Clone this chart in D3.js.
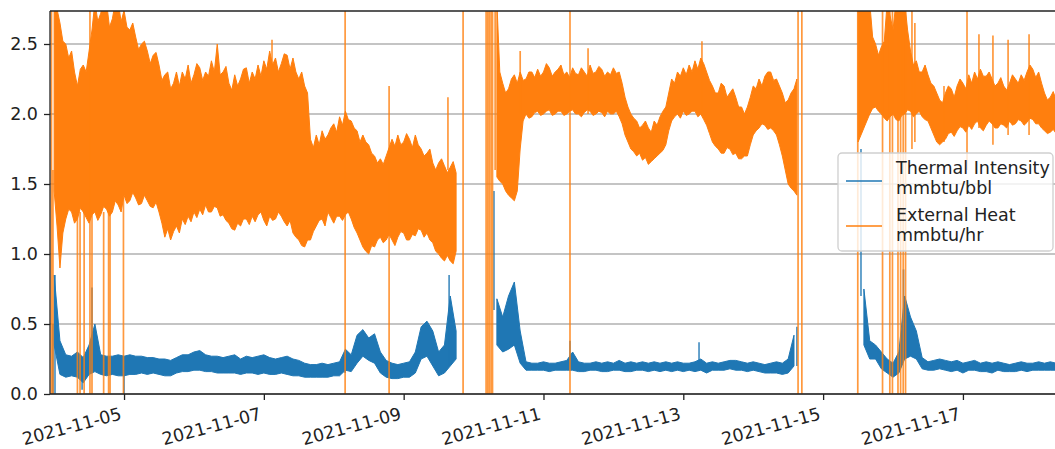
<!DOCTYPE html>
<html>
<head>
<meta charset="utf-8">
<script src="https://cdn.jsdelivr.net/npm/d3@7"></script>
<style>
  html, body { margin: 0; padding: 0; background: #fff; }
  svg { display: block; font-family: "DejaVu Sans", sans-serif; }
</style>
</head>
<body>
<svg id="chart" width="1055" height="449"></svg>
<script>
// Min/max envelopes of the plant readings, first bin at 2021-11-04 00:00 UTC.
const binStart = "2021-11-04T00:00:00Z";
const heatBinHours = 1;
const intensityBinHours = 2;

// External Heat (mmbtu/hr): hourly upper and lower envelope (null = no reading)
const heatHigh = [
  2.8, 2.75, 2.65, 2.52, 2.5, 2.4, 2.45, 2.3, 2.2, 2.32,
  2.35, 2.3, 2.45, 2.6, 2.8, 2.66, 2.72, 2.8, 2.8, 2.62,
  2.68, 2.8, 2.8, 2.66, 2.74, 2.62, 2.6, 2.65, 2.55, 2.46,
  2.5, 2.52, 2.45, 2.36, 2.42, 2.44, 2.35, 2.24, 2.28, 2.3,
  2.18, 2.22, 2.3, 2.2, 2.3, 2.25, 2.35, 2.22, 2.28, 2.36,
  2.33, 2.24, 2.3, 2.27, 2.38, 2.3, 2.5, 2.28, 2.3, 2.34,
  2.22, 2.17, 2.28, 2.2, 2.25, 2.32, 2.33, 2.22, 2.3, 2.25,
  2.35, 2.27, 2.38, 2.32, 2.45, 2.35, 2.4, 2.3, 2.36, 2.43,
  2.42, 2.32, 2.4, 2.3, 2.25, 2.3, 2.2, 2.15, 1.82, 1.76,
  1.85, 1.78, 1.88, 1.82, 1.85, 1.9, 1.93, 1.87, 1.98, 1.92,
  2.02, 1.96, 1.95, 1.9, 1.88, 1.8, 1.85, 1.8, 1.78, 1.72,
  1.7, 1.65, 1.68, 1.64, 1.7, 1.76, 1.82, 1.77, 1.85, 1.78,
  1.8, 1.86, 1.82, 1.76, 1.85, 1.78, 1.75, 1.7, 1.72, 1.75,
  1.65, 1.6, 1.65, 1.68, 1.63, 1.58, 1.62, 1.66, 1.58, null,
  null, null, null, null, null, null, null, null, null, null,
  null, null, 2.8, 2.3, 2.22, 2.15, 2.18, 2.25, 2.28, 2.22,
  2.3, 2.24, 2.25, 2.3, 2.3, 2.26, 2.32, 2.27, 2.3, 2.36,
  2.33, 2.27, 2.3, 2.32, 2.35, 2.28, 2.3, 2.26, 2.33, 2.29,
  2.28, 2.33, 2.3, 2.27, 2.35, 2.29, 2.3, 2.34, 2.32, 2.27,
  2.3, 2.28, 2.33, 2.29, 2.3, 2.22, 2.12, 2.05, 2.0, 1.97,
  1.95, 1.9, 1.92, 1.95, 1.9, 1.87, 1.95, 1.92, 1.98, 2.02,
  2.05, 2.15, 2.25, 2.22, 2.3, 2.27, 2.33, 2.28, 2.35, 2.3,
  2.38, 2.32, 2.4, 2.36, 2.3, 2.24, 2.2, 2.15, 2.15, 2.22,
  2.2, 2.12, 2.15, 2.18, 2.12, 2.05, 2.05, 2.0, 2.05, 2.12,
  2.2, 2.18, 2.25, 2.2, 2.27, 2.3, 2.3, 2.24, 2.25, 2.2,
  2.15, 2.08, 2.1, 2.15, 2.18, 2.25, null, null, null, null,
  null, null, null, null, null, null, null, null, null, null,
  null, null, null, null, null, null, 2.8, 2.8, 2.8, 2.8,
  2.8, 2.55, 2.5, 2.42, 2.48, 2.52, 2.8, 2.7, 2.6, 2.8,
  2.8, 2.8, 2.8, 2.6, 2.45, 2.35, 2.38, 2.3, 2.3, 2.35,
  2.28, 2.22, 2.2, 2.15, 2.1, 2.08, 2.15, 2.2, 2.18, 2.12,
  2.2, 2.25, 2.22, 2.18, 2.28, 2.22, 2.3, 2.25, 2.32, 2.27,
  2.27, 2.3, 2.25, 2.2, 2.22, 2.26, 2.2, 2.17, 2.22, 2.28,
  2.25, 2.22, 2.28, 2.24, 2.3, 2.35, 2.32, 2.26, 2.3, 2.22,
  2.15, 2.1, 2.12, 2.16, 2.1, 2.08,
  2.12
];
const heatLow = [
  1.45, 1.2, 0.9, 1.15, 1.25, 1.32, 1.3, 1.22, 1.25, 1.33,
  1.3, 1.26, 1.22, 1.28, 1.3, 1.24, 1.28, 1.34, 1.32, 1.27,
  1.3, 1.38, 1.35, 1.3, 1.42, 1.36, 1.38, 1.44, 1.4, 1.35,
  1.36, 1.42, 1.38, 1.34, 1.33, 1.37, 1.3, 1.22, 1.12, 1.18,
  1.1, 1.16, 1.2, 1.15, 1.25, 1.21, 1.27, 1.23, 1.3, 1.26,
  1.32, 1.28, 1.35, 1.3, 1.3, 1.34, 1.33, 1.27, 1.28, 1.24,
  1.22, 1.18, 1.17, 1.22, 1.2, 1.25, 1.25, 1.21, 1.27, 1.23,
  1.28, 1.3, 1.24, 1.2, 1.27, 1.24, 1.25, 1.3, 1.27, 1.23,
  1.2, 1.24, 1.15, 1.12, 1.1, 1.06, 1.05, 1.1, 1.1, 1.16,
  1.2, 1.24, 1.25, 1.2, 1.3, 1.26, 1.22, 1.27, 1.27, 1.24,
  1.28, 1.3, 1.25, 1.19, 1.15, 1.1, 1.05, 1.02, 1.0, 1.06,
  1.05, 1.1, 1.12, 1.08, 1.1, 1.14, 1.1, 1.06, 1.12, 1.16,
  1.15, 1.1, 1.1, 1.14, 1.13, 1.18, 1.17, 1.12, 1.15, 1.1,
  1.08, 1.02, 1.0, 0.97, 0.95, 0.99, 0.95, 0.93, 1.02, null,
  null, null, null, null, null, null, null, null, null, null,
  null, null, 1.55, 1.52, 1.5, 1.45, 1.42, 1.4, 1.38, 1.45,
  1.75, 1.95, 2.0, 1.97, 1.98, 2.01, 2.02, 1.99, 2.0, 2.02,
  2.03, 1.99, 2.0, 2.02, 2.02, 1.99, 2.0, 2.02, 2.03, 2.0,
  2.0, 1.98, 2.01, 2.03, 2.02, 1.99, 2.0, 2.02, 2.01, 1.98,
  2.02, 2.0, 2.0, 2.02, 1.98, 1.93, 1.85, 1.8, 1.75, 1.73,
  1.7, 1.72, 1.67, 1.69, 1.64, 1.66, 1.68, 1.7, 1.72, 1.74,
  1.78, 1.88, 1.95, 1.98, 2.0, 1.97, 2.02, 1.99, 2.0, 2.02,
  2.02, 1.98, 2.0, 1.96, 1.92, 1.86, 1.8, 1.77, 1.75, 1.72,
  1.72, 1.76, 1.75, 1.71, 1.72, 1.68, 1.68, 1.7, 1.7, 1.78,
  1.85, 1.88, 1.9, 1.93, 1.92, 1.89, 1.9, 1.88, 1.85, 1.78,
  1.7, 1.6, 1.5, 1.47, 1.45, 1.42, null, null, null, null,
  null, null, null, null, null, null, null, null, null, null,
  null, null, null, null, null, null, 1.8, 1.85, 1.9, 1.95,
  2.0, 2.04, 2.05, 2.02, 2.0, 1.97, 1.95, 1.98, 2.0, 1.96,
  1.95, 1.99, 2.0, 2.03, 2.02, 1.98, 2.0, 2.02, 1.98, 1.96,
  1.95, 1.9, 1.85, 1.8, 1.78, 1.8, 1.82, 1.86, 1.87, 1.84,
  1.88, 1.91, 1.9, 1.87, 1.92, 1.89, 1.93, 1.95, 1.9, 1.88,
  1.92, 1.95, 1.93, 1.9, 1.9, 1.93, 1.92, 1.9, 1.95, 1.92,
  1.93, 1.96, 1.95, 1.92, 1.94, 1.97, 1.96, 1.93, 1.93, 1.9,
  1.88, 1.86, 1.87, 1.89, 1.86, 1.85,
  1.88
];

// Thermal Intensity (mmbtu/bbl): two-hour upper and lower envelope
const intensityHigh = [
  0.85, 0.38, 0.28, 0.27, 0.3, 0.26, 0.35, 0.5, 0.28, 0.27,
  0.27, 0.28, 0.27, 0.28, 0.27, 0.27, 0.26, 0.26, 0.25, 0.25,
  0.24, 0.26, 0.28, 0.28, 0.3, 0.31, 0.28, 0.27, 0.27, 0.26,
  0.27, 0.28, 0.25, 0.27, 0.26, 0.27, 0.28, 0.26, 0.25, 0.26,
  0.27, 0.25, 0.24, 0.22, 0.21, 0.21, 0.22, 0.21, 0.22, 0.23,
  0.32, 0.28, 0.42, 0.46, 0.4, 0.43, 0.3, 0.24, 0.22, 0.21,
  0.22, 0.23, 0.3, 0.48, 0.52, 0.45, 0.3, 0.35, 0.7, 0.45,
  null, null, null, null, null, null, 0.68, 0.55, 0.7, 0.8,
  0.45, 0.23, 0.22, 0.22, 0.23, 0.22, 0.22, 0.23, 0.24, 0.3,
  0.23, 0.22, 0.22, 0.23, 0.22, 0.23, 0.22, 0.24, 0.22, 0.23,
  0.22, 0.23, 0.22, 0.23, 0.22, 0.23, 0.22, 0.23, 0.22, 0.22,
  0.23, 0.25, 0.22, 0.23, 0.22, 0.23, 0.24, 0.24, 0.23, 0.22,
  0.23, 0.22, 0.21, 0.22, 0.23, 0.22, 0.25, 0.42, null, null,
  null, null, null, null, null, null, null, null, null, 0.75,
  0.38, 0.35, 0.3, 0.25, 0.22, 0.3, 0.7, 0.55, 0.45, 0.26,
  0.23, 0.24, 0.25, 0.24, 0.23, 0.24, 0.22, 0.23, 0.24, 0.22,
  0.23, 0.22, 0.23, 0.22, 0.21, 0.22, 0.23, 0.22, 0.22, 0.23,
  0.22, 0.23, 0.22, 0.22
];
const intensityLow = [
  0.35, 0.14, 0.12, 0.13, 0.12, 0.08, 0.14, 0.16, 0.14, 0.13,
  0.14, 0.13, 0.13, 0.14, 0.14, 0.15, 0.14, 0.15, 0.14, 0.13,
  0.13, 0.15, 0.16, 0.16, 0.17, 0.17, 0.16, 0.16, 0.15, 0.15,
  0.15, 0.15, 0.14, 0.15, 0.15, 0.14, 0.15, 0.14, 0.14, 0.15,
  0.14, 0.13, 0.13, 0.12, 0.12, 0.12, 0.12, 0.12, 0.13, 0.13,
  0.17, 0.16, 0.22, 0.27, 0.24, 0.22, 0.15, 0.12, 0.11, 0.11,
  0.12, 0.12, 0.15, 0.25, 0.27, 0.2, 0.13, 0.15, 0.2, 0.25,
  null, null, null, null, null, null, 0.35, 0.3, 0.32, 0.35,
  0.22, 0.17, 0.17, 0.17, 0.17, 0.16, 0.17, 0.17, 0.17, 0.17,
  0.16, 0.16, 0.17, 0.17, 0.16, 0.16, 0.17, 0.17, 0.16, 0.16,
  0.17, 0.17, 0.16, 0.17, 0.16, 0.17, 0.16, 0.17, 0.16, 0.17,
  0.16, 0.17, 0.15, 0.17, 0.17, 0.17, 0.18, 0.17, 0.17, 0.16,
  0.17, 0.16, 0.15, 0.15, 0.15, 0.14, 0.15, 0.2, null, null,
  null, null, null, null, null, null, null, null, null, 0.35,
  0.25, 0.25, 0.18, 0.15, 0.12, 0.15, 0.25, 0.27, 0.25, 0.18,
  0.17, 0.17, 0.18, 0.17, 0.16, 0.17, 0.15, 0.17, 0.17, 0.16,
  0.16, 0.15, 0.17, 0.16, 0.16, 0.16, 0.17, 0.16, 0.17, 0.17,
  0.17, 0.17, 0.17, 0.17
];

// Short excursions: hours after binStart, lowest and highest reading
const heatSpikeHours = [-0.9, -0.4, 8.0, 8.9, 10.3, 12.3, 13.0, 17.0, 18.7, 19.2,
  23.8, 74.8, 99.9, 115.0, 135.2, 140.4, 148.3, 148.9, 149.4, 150.0,
  150.5, 151.4, 160.0, 177.1, 183.3, 222.4, 255.4, 256.7, 275.9, 284.4,
  286.9, 287.8, 289.7, 290.6, 291.5, 292.3, 294.5, 295.5, 305.5, 313.4,
  317.5, 322.3, 327.5, 334.7];
const heatSpikeLow = [0, 0, 0, 0, 0, 0, 0, 0, 0, 0,
  0, 2.3, 0, 0, 1.6, 0, 0, 0, 0, 0,
  0, 1.6, 2.0, 0, 2.0, 2.0, 0, 0, 0, 0,
  0, 0, 0, 0, 0, 0, 1.75, 1.8, 1.8, 1.6,
  1.9, 1.78, 1.85, 1.85];
const heatSpikeHigh = [2.8, 1.6, 1.3, 1.3, 1.3, 2.8, 1.3, 1.3, 1.3, 1.3,
  1.4, 2.53, 2.8, 2.2, 2.12, 2.8, 2.8, 2.8, 2.8, 2.8,
  2.8, 2.8, 2.45, 2.8, 2.47, 2.52, 2.8, 2.8, 2.8, 2.8,
  2.8, 2.8, 2.8, 2.8, 2.8, 2.8, 2.8, 2.65, 2.2, 2.8,
  2.57, 2.56, 2.53, 2.57];

const intensitySpikeHours = [-0.4, 0.3, 9.6, 13.0, 24.0, 99.9, 135.6, 151.0, 177.1, 221.4, 255.0, 277.0, 291.6];
const intensitySpikeLow  = [0, 0, 0.03, 0.15, 0.0, 0.15, 0.2, 0.6, 0.17, 0.17, 0.2, 0.7, 0.25];
const intensitySpikeHigh = [0.5, 0.85, 0.2, 0.76, 0.2, 0.3, 0.85, 1.45, 0.38, 0.37, 0.48, 1.75, 0.89];

// Axes
const yTicks = [0, 0.5, 1.0, 1.5, 2.0, 2.5];
const yTickLabels = ["0.0", "0.5", "1.0", "1.5", "2.0", "2.5"];
const xTickDates = ["2021-11-05", "2021-11-07", "2021-11-09", "2021-11-11", "2021-11-13", "2021-11-15", "2021-11-17"];
const xDomain = ["2021-11-03T22:35:00Z", "2021-11-18T09:40:00Z"];
const yMax = 2.7357;

// Legend entries
const seriesLabels = [["Thermal Intensity", "mmbtu/bbl"], ["External Heat", "mmbtu/hr"]];
const seriesColors = ["#1f77b4", "#ff7f0e"];

// ---------------------------------------------------------------------------
const svg = d3.select("#chart");
const frame = { left: 50, top: 11, right: 1061, bottom: 394 };
const fontSize = 17.5;

const x = d3.scaleUtc()
  .domain(xDomain.map(d => new Date(d)))
  .range([frame.left, frame.right]);
const y = d3.scaleLinear()
  .domain([0, yMax])
  .range([frame.bottom, frame.top]);

const t0 = Date.parse(binStart);
const hourMs = 3600 * 1000;
const atHour = h => new Date(t0 + h * hourMs);

svg.append("defs").append("clipPath").attr("id", "plotClip")
  .append("rect")
  .attr("x", frame.left).attr("y", frame.top)
  .attr("width", frame.right - frame.left).attr("height", frame.bottom - frame.top);

// Horizontal grid lines
svg.append("g").selectAll("line").data(yTicks).join("line")
  .attr("x1", frame.left).attr("x2", frame.right)
  .attr("y1", d => y(d)).attr("y2", d => y(d))
  .attr("stroke", "#b0b0b0").attr("stroke-width", 1.3);

const plot = svg.append("g").attr("clip-path", "url(#plotClip)");

function envelope(hi, lo, step) {
  return hi.map((v, i) => ({ t: atHour(i * step), hi: v, lo: lo[i] }));
}
const band = d3.area()
  .defined(d => d.hi != null && d.lo != null)
  .x(d => x(d.t))
  .y0(d => y(d.lo))
  .y1(d => y(d.hi));

function drawSeries(hi, lo, step, spikeH, spikeLo, spikeHi, color) {
  const g = plot.append("g");
  g.append("path")
    .datum(envelope(hi, lo, step))
    .attr("d", band)
    .attr("fill", color)
    .attr("stroke", color)
    .attr("stroke-width", 1)
    .attr("stroke-linejoin", "round");
  g.selectAll("line.spike")
    .data(spikeH.map((h, i) => ({ t: atHour(h), lo: spikeLo[i], hi: spikeHi[i] })))
    .join("line")
    .attr("class", "spike")
    .attr("x1", d => x(d.t)).attr("x2", d => x(d.t))
    .attr("y1", d => y(d.lo)).attr("y2", d => y(d.hi))
    .attr("stroke", color)
    .attr("stroke-width", 1.7)
    .attr("stroke-opacity", 0.8);
}

drawSeries(intensityHigh, intensityLow, intensityBinHours,
  intensitySpikeHours, intensitySpikeLow, intensitySpikeHigh, seriesColors[0]);
drawSeries(heatHigh, heatLow, heatBinHours,
  heatSpikeHours, heatSpikeLow, heatSpikeHigh, seriesColors[1]);

// Spines (right edge lies outside the canvas)
const spines = svg.append("g").attr("stroke", "#222").attr("stroke-width", 1.3).attr("fill", "none");
spines.append("line").attr("x1", frame.left).attr("x2", frame.left).attr("y1", frame.top).attr("y2", frame.bottom);
spines.append("line").attr("x1", frame.left).attr("x2", frame.right).attr("y1", frame.top).attr("y2", frame.top);
spines.append("line").attr("x1", frame.left).attr("x2", frame.right).attr("y1", frame.bottom).attr("y2", frame.bottom);
spines.append("line").attr("x1", frame.right).attr("x2", frame.right).attr("y1", frame.top).attr("y2", frame.bottom);

// Y axis
const yAxis = d3.axisLeft(y)
  .tickValues(yTicks)
  .tickFormat((d, i) => yTickLabels[i])
  .tickSize(6)
  .tickPadding(6);
const gy = svg.append("g").attr("transform", `translate(${frame.left},0)`).call(yAxis);
gy.select(".domain").remove();
gy.selectAll(".tick line").attr("stroke", "#222").attr("stroke-width", 1.3);
gy.selectAll(".tick text")
  .attr("fill", "#222")
  .style("font-size", fontSize + "px")
  .style("font-family", "'DejaVu Sans', sans-serif");

// X axis with labels tilted 15 degrees, right end anchored at the tick
const xAxis = d3.axisBottom(x)
  .tickValues(xTickDates.map(d => new Date(d + "T00:00:00Z")))
  .tickFormat(d3.utcFormat("%Y-%m-%d"))
  .tickSize(6);
const gx = svg.append("g").attr("transform", `translate(0,${frame.bottom})`).call(xAxis);
gx.select(".domain").remove();
gx.selectAll(".tick line").attr("stroke", "#222").attr("stroke-width", 1.3);
gx.selectAll(".tick text")
  .attr("fill", "#222")
  .attr("x", null).attr("y", null).attr("dy", null)
  .attr("text-anchor", "end")
  .attr("transform", "translate(-2,25) rotate(-15)")
  .style("font-size", fontSize + "px")
  .style("font-family", "'DejaVu Sans', sans-serif");

// Legend, centered on the right edge of the axes
const legend = svg.append("g");
legend.append("rect")
  .attr("x", 838).attr("y", 153)
  .attr("width", 215).attr("height", 98)
  .attr("rx", 4).attr("ry", 4)
  .attr("fill", "#fff").attr("fill-opacity", 0.8)
  .attr("stroke", "#cfcfcf").attr("stroke-width", 1.3);
const entryTop = [173.5, 220.5];
const handleY = [181, 226];
seriesLabels.forEach((lines, i) => {
  legend.append("line")
    .attr("x1", 846).attr("x2", 882)
    .attr("y1", handleY[i]).attr("y2", handleY[i])
    .attr("stroke", seriesColors[i]).attr("stroke-width", 1.5);
  const txt = legend.append("text")
    .attr("x", 896).attr("y", entryTop[i])
    .attr("fill", "#222")
    .style("font-size", fontSize + "px");
  lines.forEach((ln, j) => {
    txt.append("tspan").attr("x", 896).attr("dy", j === 0 ? 0 : 20).text(ln);
  });
});
</script>
</body>
</html>
